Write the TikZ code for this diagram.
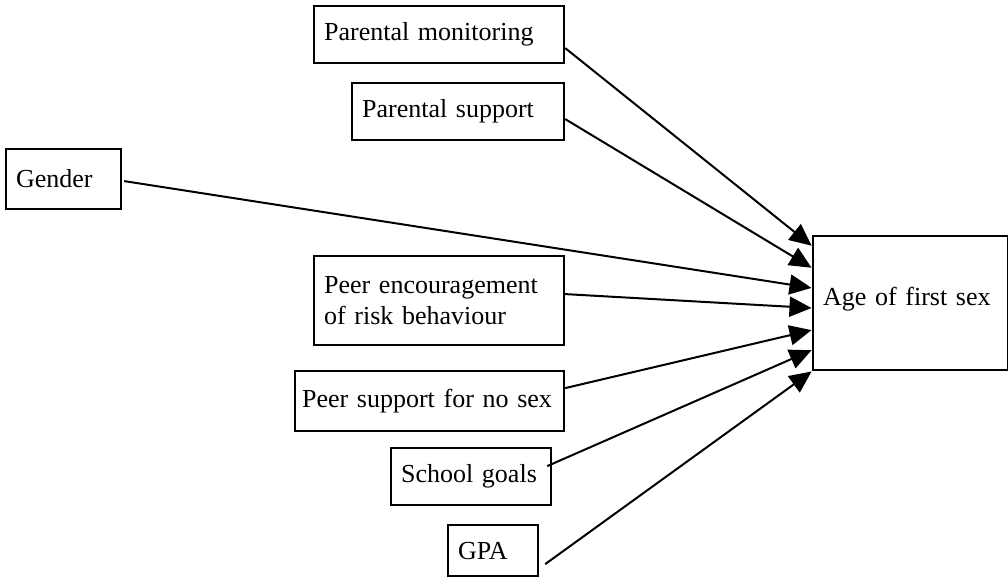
\documentclass[tikz,border=0pt]{standalone}
\usepackage{fontspec}
\setmainfont{Liberation Serif}
\usetikzlibrary{positioning,arrows.meta}

\begin{document}
\begin{tikzpicture}[x=1pt,y=-1pt]
\tikzstyle{every node}+=[inner sep=0pt]
\tikzstyle{factor}=[draw=black, line width=2.2pt, anchor=north west, inner xsep=10pt, align=left, font=\fontsize{26}{31}\selectfont]
\tikzstyle{effect}=[line width=2pt, -{Triangle[length=22pt,width=20pt]}, shorten >=0.5pt]
\useasboundingbox (0,0) rectangle (1008,585);
% predictors
\node [factor, text width=230pt, minimum height=57pt] (mon) at (313,5) {Parental monitoring};
\node [factor, text width=192pt, minimum height=57pt] (sup) at (351,82) {Parental support};
\node [factor, text width=95pt, minimum height=60pt] (gen) at (5,148) {Gender};
\node [factor, text width=230pt, minimum height=89pt] (enc) at (313,255) {Peer encouragement\\of risk behaviour};
\node [factor, inner xsep=7pt, text width=255pt, minimum height=60pt] (nosex) at (294,370) {Peer support for no sex};
\node [factor, text width=140pt, minimum height=57pt] (goals) at (390,447) {School goals};
\node [factor, text width=70pt, minimum height=51pt] (gpa) at (447,524) {GPA};
% outcome
\node [factor, text width=175pt, minimum height=134pt, text depth=14pt] (age) at (812,235) {Age of first sex};
% paths
\draw [effect] ([yshift=-13.5pt]mon.east) -- ([yshift=-11pt]age.north west);
\draw [effect] ([yshift=-7.5pt]sup.east) -- ([yshift=-33pt]age.north west);
\draw [effect] ([xshift=2pt,yshift=-2pt]gen.east) -- ([yshift=-53pt]age.north west);
\draw [effect] ([yshift=6.5pt]enc.east) -- ([yshift=-73pt]age.north west);
\draw [effect] ([yshift=13pt]nosex.east) -- ([yshift=-95pt]age.north west);
\draw [effect] ([xshift=-5pt,yshift=10.5pt]goals.east) -- ([yshift=-115pt]age.north west);
\draw [effect] ([xshift=6pt,yshift=-13.5pt]gpa.east) -- (age.south west);
\end{tikzpicture}
\end{document}
